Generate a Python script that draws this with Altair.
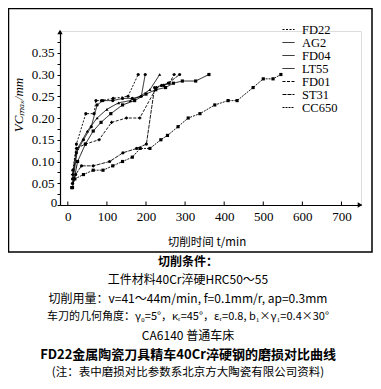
import altair as alt
import pandas as pd

series_names = ["FD22", "AG2", "FD04", "LT55", "FD01", "ST31", "CC650"]

fd22_t = [13, 22, 46, 67, 72, 86, 116, 154, 180]
fd22_v = [0.08, 0.14, 0.21, 0.21, 0.24, 0.24, 0.245, 0.25, 0.30]
ag2_t = [12, 22, 40, 60, 75, 90, 115, 140, 165, 188, 198]
ag2_v = [0.06, 0.12, 0.15, 0.18, 0.23, 0.24, 0.24, 0.245, 0.245, 0.25, 0.30]
fd04_t = [12, 25, 50, 75, 100, 130, 160, 185, 210, 235]
fd04_v = [0.05, 0.13, 0.17, 0.20, 0.22, 0.235, 0.24, 0.25, 0.265, 0.30]
lt55_t = [12, 25, 45, 65, 85, 110, 140, 171, 200, 225, 250, 270, 293, 327, 361]
lt55_v = [0.04, 0.10, 0.14, 0.17, 0.19, 0.21, 0.23, 0.24, 0.255, 0.265, 0.27, 0.28, 0.285, 0.285, 0.30]
fd01_t = [12, 22, 45, 80, 112, 150, 184, 227, 245, 260, 272]
fd01_v = [0.07, 0.13, 0.14, 0.15, 0.19, 0.20, 0.20, 0.27, 0.275, 0.28, 0.30]
st31_t = [12, 20, 35, 65, 107, 141, 176, 201, 222, 240, 257, 286]
st31_v = [0.05, 0.07, 0.09, 0.09, 0.10, 0.12, 0.13, 0.14, 0.27, 0.275, 0.28, 0.30]
cc650_t = [10, 18, 40, 65, 90, 115, 140, 165, 185, 210, 238, 255, 282, 308, 338, 376, 410, 433, 474, 500, 525, 545]
cc650_v = [0.04, 0.06, 0.07, 0.08, 0.08, 0.09, 0.10, 0.11, 0.13, 0.13, 0.15, 0.16, 0.18, 0.20, 0.21, 0.23, 0.24, 0.24, 0.27, 0.29, 0.29, 0.30]

x_ticks = [0, 100, 200, 300, 400, 500, 600, 700]
y_ticks = [round(i * 0.025, 3) for i in range(16)]

title_lines = [
    "切削条件：",
    "工件材料40Cr淬硬HRC50～55",
    "切削用量：v=41～44m/min, f=0.1mm/r, ap=0.3mm",
    "车刀的几何角度：γ₀=5°，κᵣ=45°，εᵣ=0.8, b₁×γ₁=0.4×30°",
    "CA6140 普通车床",
    "FD22金属陶瓷刀具精车40Cr淬硬钢的磨损对比曲线",
    "(注：表中磨损对比参数系北京方大陶瓷有限公司资料)",
]

all_t = [fd22_t, ag2_t, fd04_t, lt55_t, fd01_t, st31_t, cc650_t]
all_v = [fd22_v, ag2_v, fd04_v, lt55_v, fd01_v, st31_v, cc650_v]
rows = []
for name, ts, vs in zip(series_names, all_t, all_v):
    for t, v in zip(ts, vs):
        rows.append({"series": name, "t": t, "v": v})
df = pd.DataFrame(rows)

serif = "Liberation Serif"
cjk = "Noto Sans CJK SC"

xscale = alt.Scale(domain=[-20, 750], nice=False, zero=False)
yscale = alt.Scale(domain=[0, 0.4], nice=False)

dash_scale = alt.Scale(
    domain=series_names,
    range=[[2, 1.5], [1, 0], [1, 0], [1, 0], [3, 1.5], [4, 1], [2, 1]],
)
shape_scale = alt.Scale(
    domain=series_names,
    range=["circle", "circle", "triangle-up", "square", "cross", "circle", "square"],
)

yaxis = alt.Axis(values=y_ticks, title=None, grid=False, tickSize=3,
                 tickColor="black", labelFont=serif, labelFontSize=13,
                 labelColor="black", labelPadding=3, domainColor="black",
                 domainWidth=1.2, labelOverlap=False, labelBound=False,
                 labelExpr="datum.value < 0.001 ? '' : (round(datum.value*40) % 2 == 0 ? format(datum.value, '.2f') : '')")
xaxis = alt.Axis(values=x_ticks, title=None, grid=False, tickSize=0,
                 labelFont=serif, labelFontSize=13, labelColor="black",
                 labelPadding=5, domainColor="black", domainWidth=1.2, labelOverlap=False)

lines = alt.Chart(df).mark_line(color="black", strokeWidth=0.9).encode(
    x=alt.X("t:Q", scale=xscale, axis=xaxis),
    y=alt.Y("v:Q", scale=yscale, axis=yaxis),
    strokeDash=alt.StrokeDash("series:N", scale=dash_scale, sort=series_names,
                              legend=alt.Legend(title=None, orient="none", legendX=222, legendY=-8,
                                                labelFont=serif, labelFontSize=12.5, labelColor="black",
                                                symbolType="stroke", symbolSize=144, symbolStrokeWidth=1,
                                                symbolStrokeColor="black", rowPadding=-2, labelOffset=7)),
    detail="series:N",
    order="t:Q",
)

points = alt.Chart(df).transform_calculate(mk="datum.series").mark_point(
    color="black", filled=True, size=10, opacity=1).encode(
    x=alt.X("t:Q", scale=xscale, axis=xaxis),
    y=alt.Y("v:Q", scale=yscale, axis=yaxis),
    shape=alt.Shape("mk:N", scale=shape_scale, legend=None),
)

tick_df = pd.DataFrame({"t": x_ticks})
xticks = alt.Chart(tick_df).mark_rule(color="black", strokeWidth=1).encode(
    x=alt.X("t:Q", scale=xscale, axis=xaxis), y=alt.value(174), y2=alt.value(170.5)
)

one = alt.Data(values=[{"a": 1}])
yarrow = alt.Chart(one).mark_point(shape="triangle-up", filled=True, color="black", size=28, opacity=1).encode(
    x=alt.value(0), y=alt.value(1)
)
xarrow = alt.Chart(one).mark_point(shape="triangle-right", filled=True, color="black", size=28, opacity=1).encode(
    x=alt.value(300), y=alt.value(174)
)
yzero = alt.Chart(one).mark_text(text="0 ", font=serif, fontSize=13, color="black", align="center",
                                 baseline="middle").encode(x=alt.value(-6), y=alt.value(172))

border = alt.Chart(one).mark_rect(fillOpacity=0, stroke="black", strokeWidth=1.5).encode(
    x=alt.value(-51.5), x2=alt.value(312), y=alt.value(-22.5), y2=alt.value(221)
)

ytitle = alt.Chart(one).mark_text(text="VCₘₐₓ/mm", font=serif, fontStyle="italic", fontSize=13,
                                  angle=270, color="black").encode(x=alt.value(-41), y=alt.value(74))
xtitle = alt.Chart(one).mark_text(text="切削时间 t/min", font=cjk, fontSize=11.5, color="black").encode(
    x=alt.value(147), y=alt.value(212))

line_y = [231, 249, 268, 286, 305, 324, 342]
line_bold = [True, False, False, False, False, True, False]
line_size = [12, 12, 12, 11, 12, 13, 11.5]
text_layers = []
for txt, yy, b, s in zip(title_lines, line_y, line_bold, line_size):
    text_layers.append(
        alt.Chart(one).mark_text(text=txt, font=cjk, fontSize=s, fontWeight="bold" if b else "normal",
                                 color="black", baseline="middle").encode(x=alt.value(128), y=alt.value(yy))
    )

chart = alt.layer(border, lines, points, xticks, yarrow, xarrow, ytitle, xtitle, *text_layers, yzero).resolve_legend(
    shape="independent", strokeDash="independent"
).properties(
    width=301, height=174,
    padding={"left": 52, "top": 23, "right": 12, "bottom": 176},
    autosize="none",
).configure_view(stroke=None).configure_axis(labelOverlap=False).configure(background="white")

chart.save("out.html", embed_options={"renderer": "svg", "actions": False})
